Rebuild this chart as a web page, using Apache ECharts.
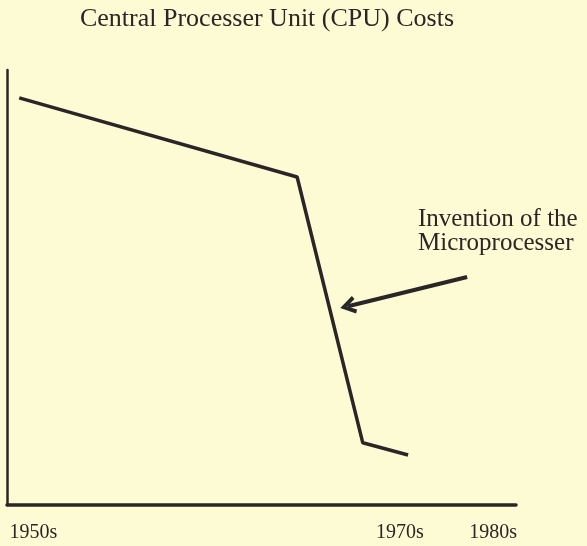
<!DOCTYPE html>
<html>
<head>
<meta charset="utf-8">
<script src="https://cdn.jsdelivr.net/npm/echarts@6/dist/echarts.min.js"></script>
<style>
    html, body { margin: 0; padding: 0; background: #fcfbd3; }
    #main { width: 587px; height: 546px; }
</style>
</head>
<body>
<div id="main"></div>
<script type="text/javascript">
    // cost curve, hand drawn: x is a 0-100 time scale, y a 0-100 cost scale
    var costX = [2.4, 57.0, 69.9, 78.8];
    var costY = [93.6, 75.4, 14.3, 11.5];
    // tick labels and where they sit on the x scale
    var tickValues = [5.2, 77.2, 95.5];
    var tickLabels = ['1950s', '1970s', '1980s'];
    // arrow pointing at the steep drop
    var arrowFrom = [90.4, 52.4];
    var arrowTo = [67.0, 45.7];
    var noteText = 'Invention of the\nMicroprocesser';

    var ink = '#2a2628';
    var font = 'Liberation Serif';

    var chart = echarts.init(document.getElementById('main'));

    var points = [];
    for (var i = 0; i < costX.length; i++) {
        points.push([costX[i], costY[i]]);
    }

    var option = {
        backgroundColor: '#fcfbd3',
        animation: false,
        title: [{
            text: 'Central Processer Unit (CPU) Costs',
            left: 262,
            top: 1,
            textAlign: 'center',
            textStyle: {
                fontFamily: font,
                fontWeight: 'normal',
                fontSize: 26,
                color: ink
            }
        }, {
            text: noteText,
            left: 413,
            top: 203,
            textStyle: {
                fontFamily: font,
                fontWeight: 'normal',
                fontSize: 25,
                lineHeight: 23.5,
                color: ink
            }
        }],
        grid: {
            left: 7,
            top: 70,
            width: 509,
            height: 435
        },
        xAxis: {
            type: 'value',
            min: 0,
            max: 100,
            splitLine: {show: false},
            axisTick: {show: false},
            axisLine: {
                lineStyle: {color: ink, width: 3.5}
            },
            axisLabel: {
                customValues: tickValues,
                margin: 18,
                fontFamily: font,
                fontSize: 20,
                color: ink,
                formatter: function (v) {
                    var k = tickValues.indexOf(v);
                    return k >= 0 ? tickLabels[k] : '';
                }
            }
        },
        yAxis: {
            type: 'value',
            min: 0,
            max: 100,
            splitLine: {show: false},
            axisTick: {show: false},
            axisLabel: {show: false},
            axisLine: {
                show: true,
                lineStyle: {color: ink, width: 2.5}
            }
        },
        series: [{
            type: 'line',
            data: points,
            clip: false,
            symbol: 'none',
            lineStyle: {color: ink, width: 3.5},
            markLine: {
                silent: true,
                symbol: ['none', 'path://M5,0 L10,9 L8,10.2 L5,4.6 L2,10.2 L0,9 Z'],
                symbolSize: [18, 16],
                label: {show: false},
                lineStyle: {color: ink, width: 4, type: 'solid'},
                data: [[{coord: arrowFrom}, {coord: arrowTo}]]
            }
        }]
    };
    chart.setOption(option);
</script>
</body>
</html>
